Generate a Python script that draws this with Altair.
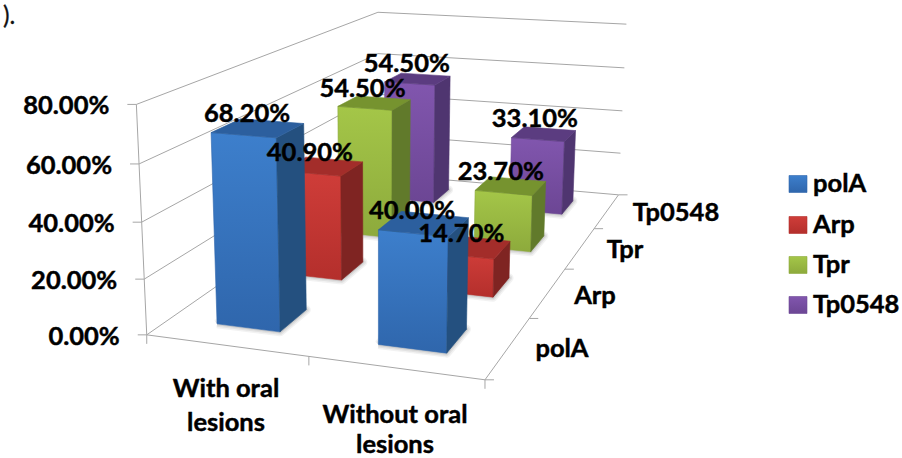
import altair as alt
import numpy as np
import pandas as pd

CATEGORIES = [["With oral", "lesions"], ["Without oral", "lesions"]]
SERIES = ["polA", "Arp", "Tpr", "Tp0548"]
POLA = [68.2, 40.0]
ARP = [40.9, 14.7]
TPR = [54.5, 23.7]
TP0548 = [54.5, 33.1]
VALUES = [POLA, ARP, TPR, TP0548]
TICKS = [0, 20, 40, 60, 80]
TICK_LABELS = ["0.00%", "20.00%", "40.00%", "60.00%", "80.00%"]

W, H = 902, 458
FONT = "Lato"

# Face colours per series: front (top, bottom), side, lid.
FACE = {
    "polA": ("#3D7FCC", "#2F66AC", "#24507F", "#2C5F9E"),
    "Arp": ("#CF3D39", "#B42F2C", "#7F2422", "#A32D2A"),
    "Tpr": ("#A4C648", "#8DAA3C", "#617A2B", "#76932F"),
    "Tp0548": ("#8156AE", "#6C4694", "#4F3570", "#5B3C80"),
}

# Reference points of the 3D box: (category axis, series axis, percent) to page pixels.
CAMERA_ANCHORS = [
    ((0, 0, 0), (146, 334)), ((1, 0, 0), (485, 379)), ((1, 1, 0), (618, 195)),
    ((0, 1, 0), (379, 174)), ((0, 0, 80), (137, 105)), ((0, 1, 80), (377, 12)),
    ((1, 1, 80), (627, 24)), ((1, 1, 40), (622, 111)), ((0, 0, 40), (142, 222)),
    ((1, .5, 0), (565, 269)), ((.5, 0, 0), (308, 358)), ((1, .25, 0), (530, 318)),
    ((1, .75, 0), (594, 229)),
]

# Fine placement of each value label relative to its bar top, per series and category.
LABEL_NUDGE = {
    "polA": [(-11, -14), (-12, -13)],
    "Arp": [(-13, -13), (-10, -13)],
    "Tpr": [(-12, -14), (-10, -14)],
    "Tp0548": [(-11, -15), (-9, -15)],
}


def fit_camera(anchors):
    rows = []
    for (u, v, h), (px, py) in anchors:
        h = h / 80
        rows.append([u, v, h, 1, 0, 0, 0, 0, -px * u, -px * v, -px * h, -px])
        rows.append([0, 0, 0, 0, u, v, h, 1, -py * u, -py * v, -py * h, -py])
    _, _, vt = np.linalg.svd(np.array(rows, dtype=float))
    return vt[-1].reshape(3, 4)


CAMERA = fit_camera(CAMERA_ANCHORS)


def project(u, v, h):
    p = CAMERA @ np.array([u, v, h / 80, 1.0])
    return float(p[0] / p[2]), float(p[1] / p[2])


X = alt.X("x:Q", axis=None, scale=alt.Scale(domain=[0, W], range=[0, W], nice=False, zero=False))
Y = alt.Y("y:Q", axis=None, scale=alt.Scale(domain=[0, H], range=[0, H], nice=False, zero=False))


def frame(points):
    return pd.DataFrame({"x": [p[0] for p in points], "y": [p[1] for p in points], "i": range(len(points))})


def line(points, color="#A6A6A6", width=1.0):
    return alt.Chart(frame(points)).mark_line(color=color, strokeWidth=width).encode(x=X, y=Y, order="i:Q")


def polygon(points, fill, edge):
    closed = list(points) + [points[0]]
    return alt.Chart(frame(closed)).mark_line(fill=fill, stroke=edge, strokeWidth=0.6).encode(x=X, y=Y, order="i:Q")


def shadow(points, width, opacity):
    closed = list(points) + [points[0]]
    return alt.Chart(frame(closed)).mark_line(
        stroke="#555555", strokeWidth=width, opacity=opacity, strokeJoin="round"
    ).encode(x=X, y=Y, order="i:Q")


def gradient(top, bottom):
    return alt.LinearGradient(
        gradient="linear", x1=0, x2=0, y1=0, y2=1,
        stops=[alt.GradientStop(color=top, offset=0), alt.GradientStop(color=bottom, offset=1)],
    )


def text(x, y, label, size=25.5, weight="bold", align="center", color="#000000", outline=0.45):
    df = pd.DataFrame({"x": [x], "y": [y], "t": [label]})
    return alt.Chart(df).mark_text(
        font=FONT, fontSize=size, fontWeight=weight, align=align, baseline="middle",
        color=color, stroke=color, strokeWidth=outline
    ).encode(x=X, y=Y, text="t:N")


layers = []

# Walls and floor outline.
for t in TICKS:
    layers.append(line([project(0, 0, t), project(0, 1, t), project(1, 1, t)]))
layers.append(line([project(0, 0, 0), project(0, 0, 80)]))
layers.append(line([project(0, 0, 0), project(1, 0, 0), project(1, 1, 0)]))

# Axis ticks.
for t in TICKS:
    px, py = project(0, 0, t)
    layers.append(line([(px - 9, py), (px, py)]))
for u in (0, .5, 1):
    px, py = project(u, 0, 0)
    layers.append(line([(px, py), (px, py + 9)]))
for v in (0, .25, .5, .75, 1):
    px, py = project(1, v, 0)
    layers.append(line([(px, py), (px + 9, py)]))

# Bars, back row first and left to right within a row.
BAR_U = 0.2
BAR_V = 0.1
tops = []
for s in reversed(range(len(SERIES))):
    name = SERIES[s]
    v0 = s * 0.25 + 0.075
    v1 = v0 + BAR_V
    front_top, front_bottom, side, lid = FACE[name]
    for c in range(len(CATEGORIES)):
        u0 = c * 0.5 + 0.15
        u1 = u0 + BAR_U
        h = VALUES[s][c]
        footprint = [project(u0, v0, 0), project(u1, v0, 0), project(u1, v1, 0), project(u0, v1, 0)]
        for width, opacity in ((9, 0.08), (6, 0.1), (3, 0.15)):
            layers.append(shadow(footprint, width, opacity))
        layers.append(polygon(
            [project(u0, v0, h), project(u1, v0, h), project(u1, v0, 0), project(u0, v0, 0)],
            gradient(front_top, front_bottom), front_bottom))
        layers.append(polygon(
            [project(u1, v0, h), project(u1, v1, h), project(u1, v1, 0), project(u1, v0, 0)],
            side, side))
        layers.append(polygon(
            [project(u0, v0, h), project(u1, v0, h), project(u1, v1, h), project(u0, v1, h)],
            lid, lid))
        tops.append((project((u0 + u1) / 2, (v0 + v1) / 2, h), h, LABEL_NUDGE[name][c]))

# Value labels above each bar.
for (px, py), h, (dx, dy) in tops:
    layers.append(text(px + dx, py + dy, f"{h:.2f}%"))

# Value axis labels.
for t, label in zip(TICKS, TICK_LABELS):
    px, py = project(0, 0, t)
    layers.append(text(px - 27, py + 2, label, align="right"))

# Category axis labels.
for (cx, y0, y1), lines in zip([(226, 389, 423), (395, 415, 445)], CATEGORIES):
    layers.append(text(cx, y0, lines[0]))
    layers.append(text(cx, y1, lines[1]))

# Series axis labels.
for (cx, cy), label in zip([(562, 349), (595, 296), (625, 250), (676, 213)], SERIES):
    layers.append(text(cx, cy, label))

# Legend.
for (name, cy) in zip(SERIES, [184, 225, 265, 305]):
    front_top, front_bottom, _, _ = FACE[name]
    layers.append(polygon(
        [(789, cy - 8.5), (807, cy - 8.5), (807, cy + 8.5), (789, cy + 8.5)],
        gradient(front_top, front_bottom), front_bottom))
    layers.append(text(813, cy, name, align="left"))

# Closing fragment of the sentence above the figure.
layers.append(text(3, 17, ").", size=24.5, weight="normal", align="left", color="#111111", outline=0.3))

chart = alt.layer(*layers).properties(
    width=W, height=H, padding=0, autosize=alt.AutoSizeParams(type="none"), background="white"
).configure_view(stroke=None)

chart.save("out.html", embed_options={"renderer": "svg", "actions": False})
